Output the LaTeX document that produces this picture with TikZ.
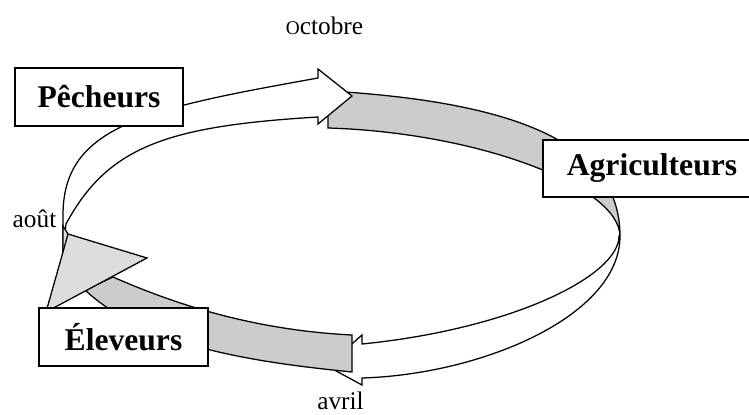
\documentclass[tikz,border=0pt]{standalone}
\usepackage{fontspec}
\setmainfont{Liberation Serif}
\definecolor{bandgray}{RGB}{204,204,204}
\definecolor{headgray}{RGB}{221,221,221}
\begin{document}
\begin{tikzpicture}[x=0.75pt,y=-0.75pt,
  band/.style={draw=black, line width=0.95pt, line join=miter},
  actor/.style={draw=black, line width=1pt, fill=white, inner sep=0pt,
    font=\fontsize{23.7}{28}\selectfont\bfseries},
  lbl/.style={font=\fontsize{19}{22}\selectfont, anchor=base, inner sep=0pt}]
\useasboundingbox (0,0) rectangle (749,414);
\clip (0,0) rectangle (749,414);

% G1: grey band, top right (octobre -> right side)
\path[band, fill=bandgray]
  (328,91) -- (330,91) .. controls (510,101.8) and (620,141) .. (620,236)
  .. controls (619,186) and (478,132.5) .. (328,128) -- cycle;

% W1: white arrow, left to top (aout -> octobre)
\path[band, fill=white]
  (63,252) -- (63,215) .. controls (63,125) and (148,108.6) .. (318,78)
  -- (318,69) -- (352,96) -- (318,124) -- (318,117)
  .. controls (168,126) and (108,146) .. (66,224) -- cycle;

% W2: white arrow, right side to bottom (-> avril)
\path[band, fill=white]
  (619,236) .. controls (619,276) and (512,329) .. (362,344)
  -- (362,335) -- (327,366) -- (362,385) -- (362,378)
  .. controls (482,374.4) and (620,316) .. (620,236) -- cycle;

% G2: grey band, bottom left (avril -> aout)
\path[band, fill=bandgray]
  (352,335) .. controls (252,330) and (173,303.4) .. (113,277)
  -- (85,290) .. controls (145,346) and (252,362) .. (352,372) -- cycle;

% arrow head at aout
\path[band, fill=headgray] (63,226) -- (68,234) -- (147,258) -- (46,312) -- (63,252) -- cycle;
\draw[line width=0.95pt] (68,234) -- (63,252);

% actors
\node[actor, minimum width=126pt, minimum height=43.5pt] (pech) at (99,97) {Pêcheurs};
\node[actor, minimum width=163.5pt, minimum height=42.75pt] (agri) at (652,168.5) {Agriculteurs};
\node[actor, minimum width=126.75pt, minimum height=43.5pt] (elev) at (123.5,337) {Éleveurs};

% month labels
\node[lbl] (oct) at (324.5,34) {{\fontsize{14.5}{17}\selectfont O}ctobre};
\node[lbl] (aout) at (34.5,227) {août};
\node[lbl] (avr) at (340.5,409) {avril};
\end{tikzpicture}
\end{document}
